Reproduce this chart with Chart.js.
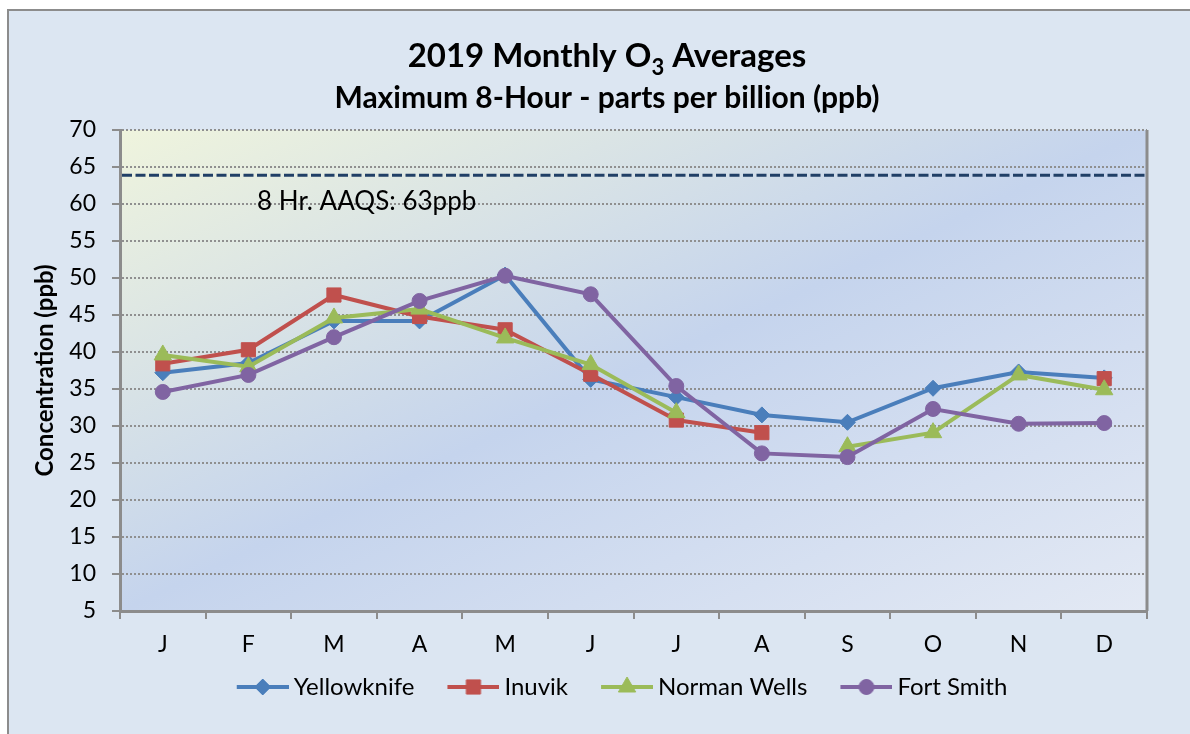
<!DOCTYPE html>
<html>
<head>
<meta charset="utf-8">
<script src="https://cdn.jsdelivr.net/npm/chart.js@4"></script>
<style>
  body { margin: 0; background: #fff; }
  canvas { display: block; }
</style>
</head>
<body>
<canvas id="ozoneChart" width="1190" height="734"></canvas>
<script>
// Data
const months = ['J', 'F', 'M', 'A', 'M', 'J', 'J', 'A', 'S', 'O', 'N', 'D'];
const yellowknife = [37.2, 38.5, 44.2, 44.2, 50.4, 36.3, 33.9, 31.5, 30.5, 35.1, 37.3, 36.5];
const inuvik = [38.4, 40.3, 47.7, 44.8, 43.0, 37.0, 30.8, 29.1, null, null, null, 36.4];
const normanWells = [39.6, 38.0, 44.6, 45.8, 41.9, 38.3, 31.8, null, 27.2, 29.1, 36.9, 34.9];
const fortSmith = [34.6, 36.9, 42.0, 46.9, 50.3, 47.8, 35.4, 26.3, 25.8, 32.3, 30.3, 30.4];

const yMin = 5;
const yMax = 70;
const yStep = 5;

const aaqsLevel = 63.9;
const aaqsLabel = '8 Hr. AAQS: 63ppb';

const titleParts = ['2019 Monthly O', '3', ' Averages'];
const subtitleText = 'Maximum 8-Hour - parts per billion (ppb)';
const yAxisTitle = 'Concentration (ppb)';

const fontFamily = 'Lato, "Noto Sans", sans-serif';

const colors = {
  blue: '#4a7ebb',
  red: '#c0504d',
  green: '#9bbb59',
  purple: '#8064a2',
  axis: '#8c8c8c',
  grid: '#8f8f8f',
  aaqs: '#203f66'
};

// Legend symbol: short line with the marker in the middle.
// The image is wider than the line so that it sits just left of the text.
function legendSymbol(color, shape, r) {
  const c = document.createElement('canvas');
  c.width = 91;
  c.height = 24;
  const ctx = c.getContext('2d');
  ctx.strokeStyle = color;
  ctx.fillStyle = color;
  ctx.lineWidth = 4;
  ctx.beginPath();
  ctx.moveTo(39, 12);
  ctx.lineTo(91, 12);
  ctx.stroke();
  ctx.lineWidth = 1;
  ctx.beginPath();
  const x = 65, y = 12;
  if (shape === 'diamond') {
    ctx.moveTo(x, y - r); ctx.lineTo(x + r, y); ctx.lineTo(x, y + r); ctx.lineTo(x - r, y);
  } else if (shape === 'square') {
    const s = r * Math.SQRT1_2;
    ctx.rect(x - s, y - s, 2 * s, 2 * s);
  } else if (shape === 'triangle') {
    ctx.moveTo(x, y - r);
    ctx.lineTo(x + r * Math.sin(2 * Math.PI / 3), y - r * Math.cos(2 * Math.PI / 3));
    ctx.lineTo(x + r * Math.sin(4 * Math.PI / 3), y - r * Math.cos(4 * Math.PI / 3));
  } else {
    ctx.arc(x, y, r, 0, Math.PI * 2);
  }
  ctx.closePath();
  ctx.fill();
  ctx.stroke();
  return c;
}

const legendSymbols = [
  legendSymbol(colors.blue, 'diamond', 8),
  legendSymbol(colors.red, 'square', 10),
  legendSymbol(colors.green, 'triangle', 10),
  legendSymbol(colors.purple, 'circle', 7.5)
];

// Outer frame and gradient plot area
const frameAndPlotBg = {
  id: 'frameAndPlotBg',
  beforeDraw(chart) {
    const { ctx, chartArea: a, width, height } = chart;
    ctx.save();
    ctx.fillStyle = '#ffffff';
    ctx.fillRect(0, 0, width, height);
    ctx.fillStyle = '#dce6f2';
    ctx.fillRect(8, 10, width, height);
    ctx.strokeStyle = colors.axis;
    ctx.lineWidth = 2;
    ctx.beginPath();
    ctx.moveTo(width + 5, 10);
    ctx.lineTo(8, 10);
    ctx.lineTo(8, height + 5);
    ctx.stroke();

    const w = a.right - a.left, h = a.bottom - a.top;
    const cx = (a.left + a.right) / 2, cy = (a.top + a.bottom) / 2;
    const len = Math.hypot(w, h);
    const ux = h / len, uy = w / len;
    const half = (w * h) / len;
    const g = ctx.createLinearGradient(cx - ux * half, cy - uy * half, cx + ux * half, cy + uy * half);
    g.addColorStop(0, '#eff4dd');
    g.addColorStop(0.5, '#c5d4ed');
    g.addColorStop(1, '#e3e9f4');
    ctx.fillStyle = g;
    ctx.fillRect(a.left, a.top, w, h);
    ctx.restore();
  }
};

// Standard line, its label and the right edge of the plot
const aaqsPlugin = {
  id: 'aaqs',
  beforeDatasetsDraw(chart) {
    const { ctx, chartArea: a, scales: { y } } = chart;
    const py = y.getPixelForValue(aaqsLevel);
    ctx.save();
    ctx.strokeStyle = colors.aaqs;
    ctx.lineWidth = 3;
    ctx.setLineDash([10, 3.5]);
    ctx.beginPath();
    ctx.moveTo(a.left + 2, py);
    ctx.lineTo(a.right, py);
    ctx.stroke();
    ctx.setLineDash([]);
    ctx.strokeStyle = colors.axis;
    ctx.lineWidth = 3;
    ctx.beginPath();
    ctx.moveTo(a.right, a.top);
    ctx.lineTo(a.right, a.bottom);
    ctx.stroke();
    ctx.fillStyle = '#000';
    ctx.font = '26px ' + fontFamily;
    ctx.textBaseline = 'alphabetic';
    ctx.fillText(aaqsLabel, a.left + 137, py + 35);
    ctx.restore();
  }
};

// Title with subscript and subtitle
const titlesPlugin = {
  id: 'titles',
  afterDraw(chart) {
    const { ctx } = chart;
    const center = 607;
    ctx.save();
    ctx.fillStyle = '#000';
    ctx.textBaseline = 'alphabetic';
    const big = 'bold 33px ' + fontFamily;
    const small = 'bold 22px ' + fontFamily;
    ctx.font = big;
    const w0 = ctx.measureText(titleParts[0]).width;
    const w2 = ctx.measureText(titleParts[2]).width;
    ctx.font = small;
    const w1 = ctx.measureText(titleParts[1]).width;
    let x = center - (w0 + w1 + w2) / 2;
    ctx.textAlign = 'left';
    ctx.font = big;
    ctx.fillText(titleParts[0], x, 67);
    x += w0;
    ctx.font = small;
    ctx.fillText(titleParts[1], x, 75);
    x += w1;
    ctx.font = big;
    ctx.fillText(titleParts[2], x, 67);

    ctx.font = 'bold 30px ' + fontFamily;
    ctx.textAlign = 'center';
    ctx.fillText(subtitleText, center, 108);
    ctx.restore();
  }
};

function series(label, data, color, style, radius, order) {
  return {
    label: label,
    data: data,
    borderColor: color,
    backgroundColor: color,
    borderWidth: 4,
    pointStyle: style,
    pointRadius: radius,
    pointBorderWidth: 1,
    pointBackgroundColor: color,
    pointBorderColor: color,
    tension: 0,
    spanGaps: false,
    order: order
  };
}

new Chart(document.getElementById('ozoneChart'), {
  type: 'line',
  data: {
    labels: months,
    datasets: [
      series('Yellowknife', yellowknife, colors.blue, 'rectRot', 8, 3),
      series('Inuvik', inuvik, colors.red, 'rect', 10, 2),
      series('Norman Wells', normanWells, colors.green, 'triangle', 10, 1),
      series('Fort Smith', fortSmith, colors.purple, 'circle', 7.5, 0)
    ]
  },
  options: {
    responsive: false,
    animation: false,
    layout: {
      padding: { top: 130, right: 43, bottom: 25, left: 65 }
    },
    plugins: {
      title: { display: false },
      tooltip: { enabled: false },
      legend: {
        position: 'bottom',
        fullSize: true,
        labels: {
          color: '#000',
          font: { size: 24, family: fontFamily },
          usePointStyle: true,
          pointStyleWidth: 77,
          padding: 1,
          sort: (a, b) => a.datasetIndex - b.datasetIndex,
          generateLabels(chart) {
            const items = Chart.defaults.plugins.legend.labels.generateLabels(chart);
            items.forEach(item => {
              item.pointStyle = legendSymbols[item.datasetIndex];
            });
            return items;
          }
        }
      }
    },
    scales: {
      x: {
        offset: true,
        grid: {
          offset: true,
          drawOnChartArea: false,
          color: colors.axis,
          lineWidth: 2,
          tickLength: 8
        },
        border: { color: colors.axis, width: 3 },
        ticks: {
          padding: 12,
          color: '#000',
          font: { size: 23, family: fontFamily },
          maxRotation: 0,
          autoSkip: false
        },
        afterFit(scale) { scale.height = 63; }
      },
      y: {
        min: yMin,
        max: yMax,
        ticks: {
          stepSize: yStep,
          padding: 16,
          color: '#000',
          font: { size: 23, family: fontFamily }
        },
        grid: {
          color: colors.grid,
          lineWidth: 2,
          tickLength: 8,
          tickColor: colors.axis
        },
        border: { color: colors.axis, width: 3, dash: [2, 2] },
        title: {
          display: true,
          text: yAxisTitle,
          color: '#000',
          font: { size: 24, weight: 'bold', family: fontFamily },
          padding: { top: -34, bottom: 0 }
        },
        afterFit(scale) { scale.width = 55; }
      }
    }
  },
  plugins: [frameAndPlotBg, aaqsPlugin, titlesPlugin]
});
</script>
</body>
</html>
